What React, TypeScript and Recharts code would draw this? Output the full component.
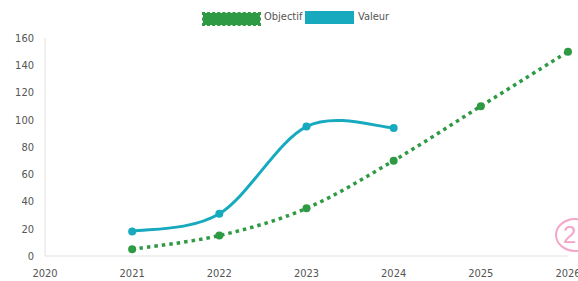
import React from 'react';
import { LineChart, Line, XAxis, YAxis } from 'recharts';

const years = [2021, 2022, 2023, 2024, 2025, 2026];
const objectif = [5, 15, 35, 70, 110, 150];
const valeur: (number | null)[] = [18, 31, 95, 94, null, null];
const yTicks = [0, 20, 40, 60, 80, 100, 120, 140, 160];
const xTicks = [2020, 2021, 2022, 2023, 2024, 2025, 2026];

const data = years.map((year, i) => ({ year, objectif: objectif[i], valeur: valeur[i] }));

const GREEN = '#2f9a44';
const TEAL = '#17aabf';
const FONT = "'DejaVu Sans Condensed', 'Liberation Sans Narrow', sans-serif";

// smoothed line like a spreadsheet's (Catmull-Rom through the points)
function smoothCurve(context: any) {
  let pts: [number, number][] = [];
  return {
    areaStart() {},
    areaEnd() {},
    lineStart() { pts = []; },
    point(x: number, y: number) { pts.push([x, y]); },
    lineEnd() {
      if (!pts.length) return;
      context.moveTo(pts[0][0], pts[0][1]);
      for (let i = 0; i < pts.length - 1; i++) {
        const p0 = pts[i - 1] || pts[i];
        const p1 = pts[i];
        const p2 = pts[i + 1];
        const p3 = pts[i + 2] || pts[i + 1];
        context.bezierCurveTo(
          p1[0] + (p2[0] - p0[0]) / 6, p1[1] + (p2[1] - p0[1]) / 6,
          p2[0] - (p3[0] - p1[0]) / 6, p2[1] - (p3[1] - p1[1]) / 6,
          p2[0], p2[1]
        );
      }
    },
  };
}

function ChartLegend() {
  const txt: React.CSSProperties = { position: 'absolute', top: 10, fontFamily: FONT, fontSize: 11, color: '#555', lineHeight: '14px' };
  return (
    <>
      <div style={{ position: 'absolute', left: 203, top: 13, width: 53, height: 8, background: GREEN, border: `2px dotted ${GREEN}`, outline: '1px dashed ' + GREEN }} />
      <span style={{ ...txt, left: 264 }}>Objectif</span>
      <div style={{ position: 'absolute', left: 305, top: 11, width: 49, height: 13, background: TEAL }} />
      <span style={{ ...txt, left: 358 }}>Valeur</span>
    </>
  );
}

export default function App() {
  return (
    <div style={{ position: 'absolute', top: 0, left: 0, width: 578, height: 281, overflow: 'hidden', background: '#fff' }}>
      <ChartLegend />
      <LineChart width={578} height={281} data={data} margin={{ top: 38, right: 10, bottom: 0, left: 0 }}>
        <XAxis
          dataKey="year"
          type="number"
          domain={[2020, 2026]}
          ticks={xTicks}
          tickLine={false}
          tickSize={0}
          tickMargin={13}
          height={25}
          axisLine={{ stroke: '#e0e0e0' }}
          tick={{ fontSize: 11, fill: '#555', fontFamily: FONT }}
          interval={0}
        />
        <YAxis
          domain={[0, 160]}
          ticks={yTicks}
          width={45}
          tickLine={false}
          tickSize={0}
          tickMargin={11}
          axisLine={{ stroke: '#e0e0e0' }}
          tick={{ fontSize: 11, fill: '#555', fontFamily: FONT }}
          interval={0}
        />
        <Line
          dataKey="objectif"
          type={smoothCurve as any}
          stroke={GREEN}
          strokeWidth={3.5}
          strokeDasharray="3.5 4"
          dot={{ r: 4, fill: GREEN, stroke: GREEN, strokeWidth: 0, strokeDasharray: '0' }}
          isAnimationActive={false}
        />
        <Line
          dataKey="valeur"
          type={smoothCurve as any}
          stroke={TEAL}
          strokeWidth={3}
          dot={{ r: 4, fill: TEAL, stroke: TEAL, strokeWidth: 0 }}
          connectNulls={false}
          isAnimationActive={false}
        />
      </LineChart>
      <div style={{ position: 'absolute', left: 555, top: 218, width: 30, height: 30, borderRadius: '50%', border: '2px solid #f4a6c8', color: '#f4a6c8', fontFamily: 'Liberation Sans, sans-serif', fontSize: 24, lineHeight: '30px', paddingLeft: 6, boxSizing: 'content-box' }}>2</div>
    </div>
  );
}
